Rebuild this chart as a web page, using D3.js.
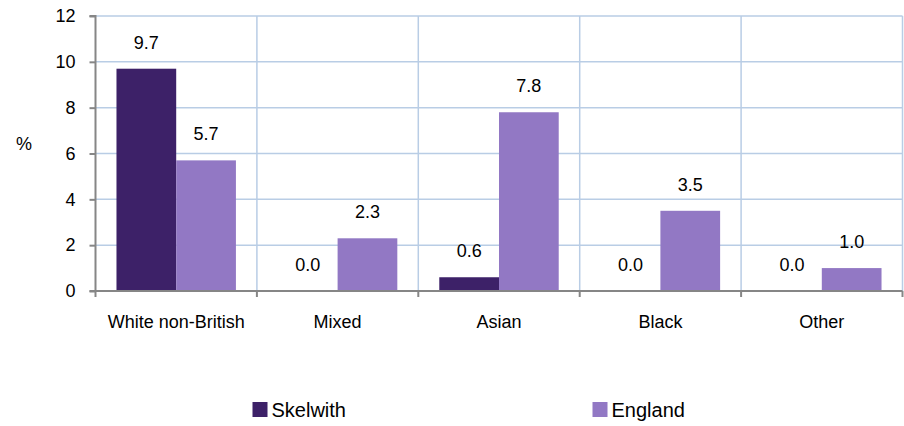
<!DOCTYPE html>
<html>
<head>
<meta charset="utf-8">
<script src="https://cdn.jsdelivr.net/npm/d3@7"></script>
<style>
  html, body { margin: 0; padding: 0; background: #fff; }
  svg { display: block; font-family: "Liberation Sans", Arial, sans-serif; }
</style>
</head>
<body>
<svg id="chart" width="904" height="426"></svg>
<script>
const categories = ["White non-British", "Mixed", "Asian", "Black", "Other"];
const seriesNames = ["Skelwith", "England"];
const skelwith = [9.7, 0.0, 0.6, 0.0, 0.0];
const england = [5.7, 2.3, 7.8, 3.5, 1.0];
const yTicks = [0, 2, 4, 6, 8, 10, 12];
const colors = ["#3d2168", "#9278c4"];

const seriesValues = [skelwith, england];
const svg = d3.select("#chart");

const plotLeft = 95.5, plotRight = 902.5, plotTop = 16, plotBottom = 291;

const x = d3.scaleBand().domain(categories).range([plotLeft, plotRight])
  .paddingInner(0.26).paddingOuter(0.13);
const xs = d3.scaleBand().domain(seriesNames).range([0, x.bandwidth()]);
const y = d3.scaleLinear().domain([0, 12]).range([plotBottom, plotTop]);

const gridColor = "#b9cde5";
const axisColor = "#868686";

// horizontal gridlines
svg.append("g").selectAll("line").data(yTicks.filter(d => d > 0)).join("line")
  .attr("x1", plotLeft).attr("x2", plotRight)
  .attr("y1", d => y(d)).attr("y2", d => y(d))
  .attr("stroke", gridColor).attr("stroke-width", 1.5);

// vertical gridlines at category boundaries
const step = x.step();
const bounds = categories.map((c, i) => plotLeft + step * (i + 1));
svg.append("g").selectAll("line").data(bounds).join("line")
  .attr("x1", d => d).attr("x2", d => d)
  .attr("y1", plotTop).attr("y2", plotBottom)
  .attr("stroke", gridColor).attr("stroke-width", 1.5);

// bars
const rows = [];
categories.forEach((c, i) => seriesNames.forEach((s, j) => rows.push({c, s, j, v: seriesValues[j][i]})));

svg.append("g").selectAll("rect").data(rows).join("rect")
  .attr("x", d => x(d.c) + xs(d.s))
  .attr("width", xs.bandwidth())
  .attr("y", d => y(d.v))
  .attr("height", d => y(0) - y(d.v))
  .attr("fill", d => colors[d.j]);

// data labels
svg.append("g").selectAll("text").data(rows).join("text")
  .attr("x", d => x(d.c) + xs(d.s) + xs.bandwidth() / 2)
  .attr("y", d => y(d.v) - 20)
  .attr("text-anchor", "middle")
  .attr("font-size", 18)
  .attr("fill", "#000")
  .text(d => d.v.toFixed(1));

// y axis
const yAxis = d3.axisLeft(y).tickValues(yTicks).tickSize(6).tickPadding(14);
const gy = svg.append("g").attr("transform", `translate(${plotLeft},0)`).call(yAxis);
gy.select(".domain").attr("stroke", axisColor).attr("stroke-width", 2).attr("d", `M-6,${plotTop}H0V${plotBottom}H-6`);
gy.selectAll(".tick line").attr("stroke", axisColor).attr("stroke-width", 2);
gy.selectAll(".tick text").attr("font-size", 18).attr("fill", "#000")
  .attr("font-family", "Liberation Sans, Arial, sans-serif");

// x axis
const xAxis = d3.axisBottom(x).tickSize(0).tickPadding(24);
const gx = svg.append("g").attr("transform", `translate(0,${plotBottom})`).call(xAxis);
gx.select(".domain").attr("stroke", axisColor).attr("stroke-width", 2).attr("d", `M${plotLeft},0H${plotRight}`);
gx.selectAll(".tick text").attr("font-size", 18).attr("fill", "#000")
  .attr("font-family", "Liberation Sans, Arial, sans-serif");
// tick marks at boundaries
svg.append("g").selectAll("line").data([plotLeft].concat(bounds)).join("line")
  .attr("x1", d => d).attr("x2", d => d)
  .attr("y1", plotBottom).attr("y2", plotBottom + 6)
  .attr("stroke", axisColor).attr("stroke-width", 2);

// y axis title
svg.append("text").attr("x", 24).attr("y", 150).attr("text-anchor", "middle")
  .attr("font-size", 18).attr("fill", "#000").text("%");

// legend
const legendX = [252.5, 592.5];
const lg = svg.append("g").selectAll("g").data(seriesNames).join("g")
  .attr("transform", (d, i) => `translate(${legendX[i]},402)`);
lg.append("rect").attr("width", 15).attr("height", 15).attr("fill", (d, i) => colors[i]);
lg.append("text").attr("x", 19).attr("y", 15).attr("font-size", 20).attr("fill", "#000").text(d => d);
</script>
</body>
</html>
